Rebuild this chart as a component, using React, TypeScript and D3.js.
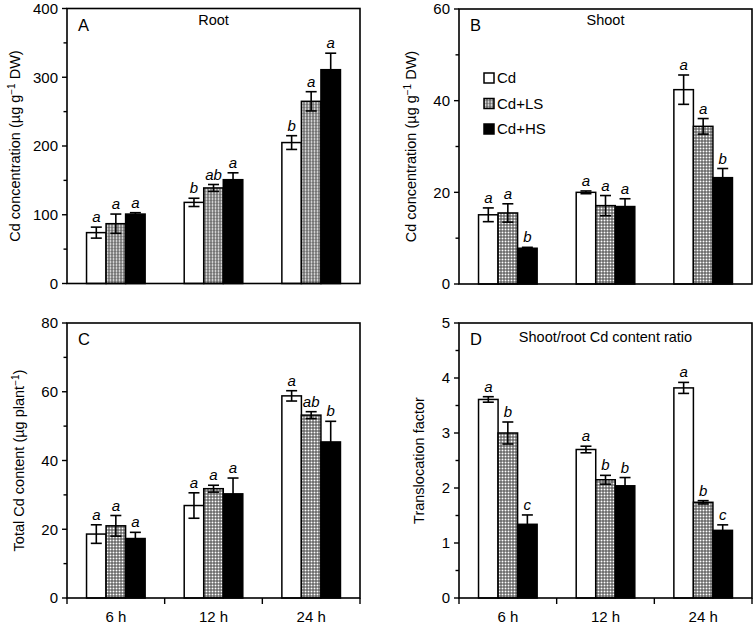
import React from "react";
import * as d3 from "d3";

const categories = ["6 h", "12 h", "24 h"];
const seriesNames = ["Cd", "Cd+LS", "Cd+HS"];

// Panel A – root Cd concentration (series x category)
const rootMeans = [
  [74, 118, 205],
  [87, 139, 265],
  [101, 151, 311],
];
const rootErrors = [
  [8, 6, 10],
  [14, 5, 14],
  [2, 10, 24],
];
const rootLetters = [
  ["a", "b", "b"],
  ["a", "ab", "a"],
  ["a", "a", "a"],
];
const rootTicks = [0, 100, 200, 300, 400];

// Panel B – shoot Cd concentration
const shootMeans = [
  [15.1, 20.0, 42.4],
  [15.5, 17.1, 34.4],
  [7.8, 16.9, 23.2],
];
const shootErrors = [
  [1.5, 0.3, 3.2],
  [2.0, 2.2, 1.7],
  [0.2, 1.7, 2.0],
];
const shootLetters = [
  ["a", "a", "a"],
  ["a", "a", "a"],
  ["b", "a", "b"],
];
const shootTicks = [0, 20, 40, 60];

// Panel C – total Cd content
const totalMeans = [
  [18.6, 26.9, 58.8],
  [21.0, 31.8, 53.2],
  [17.3, 30.3, 45.4],
];
const totalErrors = [
  [2.7, 3.7, 1.5],
  [3.0, 1.0, 1.0],
  [1.8, 4.6, 6.0],
];
const totalLetters = [
  ["a", "a", "a"],
  ["a", "a", "ab"],
  ["a", "a", "b"],
];
const totalTicks = [0, 20, 40, 60, 80];

// Panel D – translocation factor
const ratioMeans = [
  [3.61, 2.7, 3.82],
  [3.0, 2.15, 1.74],
  [1.34, 2.04, 1.23],
];
const ratioErrors = [
  [0.05, 0.06, 0.1],
  [0.2, 0.08, 0.03],
  [0.17, 0.15, 0.1],
];
const ratioLetters = [
  ["a", "a", "a"],
  ["b", "b", "b"],
  ["c", "b", "c"],
];
const ratioTicks = [0, 1, 2, 3, 4, 5];

const FONT = "'Liberation Sans', Arial, Helvetica, sans-serif";
const fills = ["#ffffff", "url(#dots)", "#000000"];

const W = 293;
const H = 275;

type PanelProps = {
  left: number;
  top: number;
  letter: string;
  title?: string;
  titleY?: number;
  yLabel: React.ReactNode;
  yLabelX: number;
  means: number[][];
  errors: number[][];
  letters: string[][];
  ticks: number[];
  showX: boolean;
  legend?: boolean;
};

function Panel(p: PanelProps) {
  const max = p.ticks[p.ticks.length - 1];
  const y = d3.scaleLinear().domain([0, max]).range([H, 0]);
  const x = d3.scaleBand<string>().domain(categories).range([0, W]).padding(0);
  const bw = x.bandwidth();
  const sub = d3
    .scaleBand<string>()
    .domain(seriesNames)
    .range([bw * 0.2, bw * 0.8])
    .padding(0);
  const sw = sub.bandwidth();
  const step = p.ticks[1] - p.ticks[0];
  const minor = p.ticks.slice(0, -1).map((t) => t + step / 2);

  return (
    <g transform={`translate(${p.left},${p.top})`} fontFamily={FONT}>
      {seriesNames.map((s, si) =>
        categories.map((c, ci) => {
          const v = p.means[si][ci];
          const bx = (x(c) as number) + (sub(s) as number);
          return (
            <rect
              key={`b${si}${ci}`}
              x={bx}
              y={y(v)}
              width={sw}
              height={H - y(v)}
              fill={fills[si]}
              stroke="#000"
              strokeWidth={1.5}
            />
          );
        })
      )}
      {seriesNames.map((s, si) =>
        categories.map((c, ci) => {
          const v = p.means[si][ci];
          const e = p.errors[si][ci];
          const cx = (x(c) as number) + (sub(s) as number) + sw / 2;
          const hi = y(v + e);
          const lo = y(v - e);
          return (
            <g key={`e${si}${ci}`}>
              <line x1={cx} x2={cx} y1={hi} y2={lo} stroke="#000" strokeWidth={1.6} />
              <line x1={cx - 5.5} x2={cx + 5.5} y1={hi} y2={hi} stroke="#000" strokeWidth={1.6} />
              <line x1={cx - 5.5} x2={cx + 5.5} y1={lo} y2={lo} stroke="#000" strokeWidth={1.6} />
              <text x={cx} y={hi - 5} textAnchor="middle" fontStyle="italic" fontSize={15}>
                {p.letters[si][ci]}
              </text>
            </g>
          );
        })
      )}
      <rect x={0} y={0} width={W} height={H} fill="none" stroke="#000" strokeWidth={1.6} />
      {p.ticks.map((t) => (
        <g key={`t${t}`}>
          <line x1={-5} x2={0} y1={y(t)} y2={y(t)} stroke="#000" strokeWidth={1.4} />
          <text x={-9} y={y(t)} dy="0.35em" textAnchor="end" fontSize={15}>
            {t}
          </text>
        </g>
      ))}
      {minor.map((t) => (
        <line key={`m${t}`} x1={-3.5} x2={0} y1={y(t)} y2={y(t)} stroke="#000" strokeWidth={1.4} />
      ))}
      {p.showX && (
        <g>
          {[0, ...categories.map((c) => (x(c) as number) + bw)].map((px, i) => (
            <line key={`xt${i}`} x1={px} x2={px} y1={H} y2={H + 6} stroke="#000" strokeWidth={1.4} />
          ))}
          {categories.map((c) => (
            <text
              key={`xl${c}`}
              x={(x(c) as number) + bw / 2}
              y={H + 24}
              textAnchor="middle"
              fontSize={15}
            >
              {c}
            </text>
          ))}
        </g>
      )}
      <text x={11} y={22} fontSize={16.5}>
        {p.letter}
      </text>
      {p.title && (
        <text x={W / 2} y={p.titleY ?? 16} textAnchor="middle" fontSize={14.5}>
          {p.title}
        </text>
      )}
      <text
        transform={`translate(${p.yLabelX},${H / 2}) rotate(-90)`}
        textAnchor="middle"
        fontSize={14.5}
      >
        {p.yLabel}
      </text>
      {p.legend &&
        seriesNames.map((s, i) => (
          <g key={`lg${s}`} transform={`translate(25,${69 + i * 25.5})`}>
            <rect x={0} y={-5} width={10} height={10} fill={fills[i]} stroke="#000" strokeWidth={1.5} />
            <text x={13} y={0} dy="0.36em" fontSize={15}>
              {s}
            </text>
          </g>
        ))}
    </g>
  );
}

export default function App() {
  const sup = (t: string) => (
    <tspan dy={-5} fontSize={10}>
      {t}
    </tspan>
  );
  return (
    <svg
      width={755}
      height={624}
      style={{ position: "absolute", left: 0, top: 0, background: "#fff" }}
    >
      <defs>
        <pattern id="dots" width={3} height={3} patternUnits="userSpaceOnUse">
          <rect width={3} height={3} fill="#444" />
          <rect x={0.5} y={0.5} width={2} height={2} fill="#fff" />
        </pattern>
      </defs>
      <rect width={755} height={624} fill="#fff" />
      <Panel
        left={67}
        top={8.5}
        letter="A"
        title="Root"
        yLabel={
          <>
            Cd concentration (µg g{sup("−1")}
            <tspan dy={5}> DW)</tspan>
          </>
        }
        yLabelX={-47}
        means={rootMeans}
        errors={rootErrors}
        letters={rootLetters}
        ticks={rootTicks}
        showX={false}
      />
      <Panel
        left={459}
        top={9}
        letter="B"
        title="Shoot"
        yLabel={
          <>
            Cd concentration (µg g{sup("−1")}
            <tspan dy={5}> DW)</tspan>
          </>
        }
        yLabelX={-43}
        means={shootMeans}
        errors={shootErrors}
        letters={shootLetters}
        ticks={shootTicks}
        showX={false}
        legend
      />
      <Panel
        left={67}
        top={323}
        letter="C"
        yLabel={
          <>
            Total Cd content (µg plant{sup("−1")}
            <tspan dy={5}>)</tspan>
          </>
        }
        yLabelX={-43}
        means={totalMeans}
        errors={totalErrors}
        letters={totalLetters}
        ticks={totalTicks}
        showX
      />
      <Panel
        left={459}
        top={323}
        letter="D"
        title="Shoot/root Cd content ratio"
        titleY={19}
        yLabel="Translocation factor"
        yLabelX={-35}
        means={ratioMeans}
        errors={ratioErrors}
        letters={ratioLetters}
        ticks={ratioTicks}
        showX
      />
    </svg>
  );
}
